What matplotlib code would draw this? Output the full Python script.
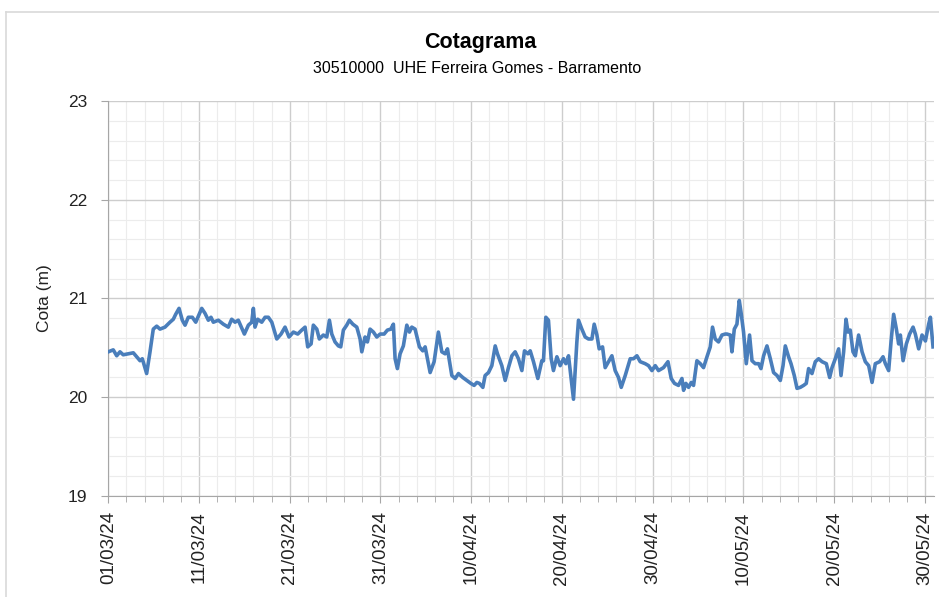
import matplotlib
matplotlib.use("Agg")
import matplotlib.pyplot as plt
import matplotlib.dates as mdates
from matplotlib.ticker import MultipleLocator
from matplotlib.lines import Line2D
import pandas as pd

plt.rcParams['font.family'] = ['Liberation Sans Narrow', 'Liberation Sans', 'DejaVu Sans']

# dias desde 01/03/2024 e cota (m)
dias = [0.0, 0.55, 0.93, 1.29, 1.65, 2.2, 2.76, 3.13, 3.5, 3.75, 4.23, 4.6, 4.96, 5.34, 5.7,
        6.25, 6.8, 7.17, 7.43, 7.8, 8.16, 8.46, 8.82, 9.26, 9.64, 10.3, 10.66, 11.03, 11.32,
        11.58, 12.13, 12.68, 13.23, 13.6, 13.97, 14.33, 15.0, 15.44, 15.81, 15.99, 16.17,
        16.47, 16.91, 17.28, 17.64, 18.02, 18.57, 19.04, 19.48, 19.92, 20.4, 20.88, 21.32,
        21.69, 21.98, 22.35, 22.6, 22.98, 23.26, 23.7, 24.08, 24.37, 24.63, 24.99, 25.36,
        25.62, 25.91, 26.28, 26.57, 26.95, 27.39, 27.75, 27.94, 28.3, 28.56, 28.85, 29.22,
        29.59, 29.96, 30.4, 30.76, 31.14, 31.42, 31.61, 31.86, 32.16, 32.52, 32.9, 33.19,
        33.45, 33.81, 34.29, 34.66, 34.92, 35.47, 35.91, 36.38, 36.76, 37.12, 37.38, 37.86,
        38.23, 38.59, 39.07, 39.52, 39.96, 40.32, 40.62, 40.9, 41.28, 41.53, 41.9, 42.27,
        42.64, 42.89, 43.37, 43.74, 44.1, 44.48, 44.84, 45.2, 45.58, 45.87, 46.24, 46.5,
        46.86, 47.34, 47.78, 47.96, 48.22, 48.51, 48.81, 49.06, 49.44, 49.8, 50.17, 50.43,
        50.72, 51.09, 51.27, 51.64, 51.82, 52.19, 52.56, 52.92, 53.3, 53.55, 53.85, 54.1,
        54.47, 54.76, 55.13, 55.5, 55.86, 56.23, 56.53, 56.97, 57.52, 57.88, 58.26, 58.62,
        59.17, 59.54, 59.91, 60.28, 60.64, 61.19, 61.68, 62.04, 62.4, 62.84, 63.22, 63.4,
        63.66, 63.95, 64.25, 64.5, 64.87, 65.24, 65.6, 65.98, 66.34, 66.59, 66.89, 67.25,
        67.63, 67.99, 68.18, 68.55, 68.73, 68.99, 69.28, 69.54, 69.76, 70.01, 70.31, 70.67,
        70.94, 71.3, 71.67, 71.93, 72.22, 72.59, 72.96, 73.32, 73.7, 74.06, 74.36, 74.61,
        74.97, 75.24, 75.6, 75.9, 76.26, 76.63, 76.92, 77.18, 77.55, 77.92, 78.28, 78.66,
        79.13, 79.5, 79.76, 80.12, 80.49, 80.75, 81.04, 81.3, 81.52, 81.77, 82.07, 82.33,
        82.69, 83.07, 83.43, 83.8, 84.17, 84.53, 85.01, 85.38, 85.64, 86.0, 86.27, 86.55,
        86.85, 87.1, 87.29, 87.59, 87.95, 88.31, 88.69, 88.94, 89.31, 89.68, 90.05, 90.41,
        90.6, 90.89]
cota = [20.46, 20.48, 20.42, 20.46, 20.43, 20.44, 20.45, 20.41, 20.37, 20.39, 20.24, 20.46,
        20.69, 20.72, 20.69, 20.71, 20.76, 20.79, 20.84, 20.90, 20.78, 20.73, 20.81, 20.81,
        20.76, 20.90, 20.85, 20.78, 20.81, 20.76, 20.78, 20.74, 20.71, 20.79, 20.76, 20.78,
        20.64, 20.73, 20.76, 20.90, 20.71, 20.79, 20.76, 20.81, 20.81, 20.76, 20.59, 20.64,
        20.71, 20.61, 20.66, 20.64, 20.68, 20.71, 20.51, 20.54, 20.73, 20.69, 20.59, 20.63,
        20.61, 20.78, 20.64, 20.56, 20.52, 20.51, 20.68, 20.73, 20.78, 20.74, 20.71, 20.59,
        20.46, 20.61, 20.56, 20.69, 20.66, 20.61, 20.64, 20.64, 20.68, 20.69, 20.74, 20.39,
        20.29, 20.44, 20.52, 20.73, 20.66, 20.71, 20.69, 20.51, 20.47, 20.51, 20.25, 20.36,
        20.66, 20.46, 20.44, 20.49, 20.22, 20.19, 20.24, 20.20, 20.17, 20.14, 20.12, 20.15,
        20.14, 20.10, 20.22, 20.25, 20.32, 20.52, 20.44, 20.32, 20.17, 20.30, 20.42, 20.46,
        20.39, 20.27, 20.47, 20.44, 20.47, 20.36, 20.19, 20.37, 20.37, 20.81, 20.78, 20.39,
        20.27, 20.41, 20.32, 20.39, 20.34, 20.42, 20.12, 19.98, 20.56, 20.78, 20.69, 20.61,
        20.59, 20.59, 20.74, 20.63, 20.49, 20.51, 20.30, 20.36, 20.42, 20.27, 20.20, 20.10,
        20.22, 20.39, 20.39, 20.42, 20.36, 20.34, 20.32, 20.27, 20.32, 20.27, 20.30, 20.36,
        20.19, 20.14, 20.12, 20.19, 20.07, 20.14, 20.10, 20.15, 20.12, 20.37, 20.34, 20.30,
        20.41, 20.51, 20.71, 20.59, 20.56, 20.63, 20.64, 20.64, 20.63, 20.46, 20.69, 20.74,
        20.98, 20.84, 20.66, 20.34, 20.63, 20.37, 20.34, 20.34, 20.29, 20.42, 20.52, 20.39,
        20.25, 20.22, 20.17, 20.32, 20.52, 20.41, 20.34, 20.22, 20.09, 20.10, 20.12, 20.14,
        20.29, 20.24, 20.36, 20.39, 20.36, 20.34, 20.20, 20.30, 20.39, 20.49, 20.22, 20.46,
        20.79, 20.66, 20.68, 20.46, 20.42, 20.63, 20.46, 20.36, 20.32, 20.15, 20.34, 20.36,
        20.41, 20.34, 20.27, 20.57, 20.84, 20.69, 20.54, 20.63, 20.37, 20.54, 20.64, 20.71,
        20.64, 20.49, 20.63, 20.57, 20.74, 20.81, 20.51]

inicio = pd.Timestamp("2024-03-01")
datas = inicio + pd.to_timedelta(dias, unit="D")

titulo = "Cotagrama"
subtitulo = "30510000  UHE Ferreira Gomes - Barramento"

fig = plt.figure(figsize=(9.39, 5.97), dpi=100)
ax = fig.add_axes([0.1153, 0.1692, 0.9947 - 0.1153, 0.8308 - 0.1692])

# moldura cinza clara em volta do grafico
fig.add_artist(Line2D([0.0064, 0.0064], [0.0, 0.98], transform=fig.transFigure,
                      color="#d9d9d9", lw=1.2))
fig.add_artist(Line2D([0.0064, 1.0], [0.98, 0.98], transform=fig.transFigure,
                      color="#d9d9d9", lw=1.2))

ax.plot(datas, cota, color="#4a7ebb", lw=2.6, zorder=3)

ax.set_xlim(inicio, inicio + pd.Timedelta(days=91))
ax.set_ylim(19, 23)

ax.set_xticks(pd.date_range(inicio, periods=10, freq="10D"))
ax.set_xticks(pd.date_range(inicio, periods=46, freq="2D"), minor=True)
ax.xaxis.set_major_formatter(mdates.DateFormatter("%d/%m/%y"))
ax.yaxis.set_major_locator(MultipleLocator(1))
ax.yaxis.set_minor_locator(MultipleLocator(0.2))

ax.grid(which="major", color="#cdcdcd", lw=1.0)
ax.grid(which="minor", color="#ececec", lw=0.8)
ax.set_axisbelow(True)

for s in ["top", "right"]:
    ax.spines[s].set_visible(False)
for s in ["left", "bottom"]:
    ax.spines[s].set_color("#a6a6a6")

ax.tick_params(axis="both", which="both", colors="#a6a6a6", labelcolor="#222222")
ax.tick_params(axis="y", which="major", length=5, pad=10, labelsize=12.5)
ax.tick_params(axis="y", which="minor", length=0)
ax.tick_params(axis="x", which="major", length=5, pad=6, labelsize=13.5, labelrotation=90)
ax.tick_params(axis="x", which="minor", length=4)

ax.set_ylabel("Cota (m)", fontsize=12.5, labelpad=11.5, color="#222222")

fig.text(0.511, 0.929, titulo, ha="center", va="center", fontsize=15.5, fontweight="bold")
fig.text(0.508, 0.886, subtitulo, ha="center", va="center", fontsize=11.5)

fig.savefig("out.png", dpi=100)
